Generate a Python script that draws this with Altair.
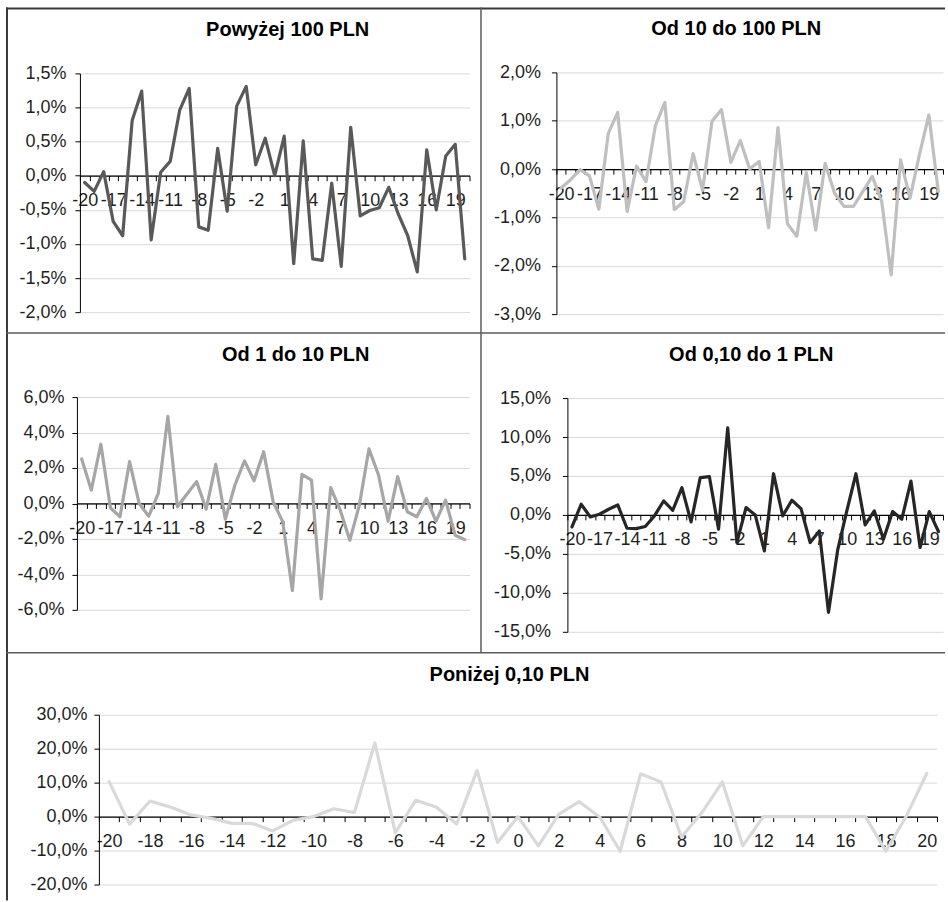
import altair as alt
import pandas as pd

# Session offsets (days relative to the event)
lags = list(range(-20, 21))

# Average abnormal returns (%) by price bracket
above_100 = [-0.10, -0.23, 0.06, -0.67, -0.88, 0.81, 1.24, -0.94, 0.05, 0.21, 0.96,
             1.28, -0.75, -0.80, 0.40, -0.52, 1.02, 1.31, 0.16, 0.55, 0.00, 0.58,
             -1.29, 0.51, -1.22, -1.24, -0.11, -1.33, 0.71, -0.59, -0.51, -0.47,
             -0.17, -0.56, -0.88, -1.41, 0.38, -0.50, 0.29, 0.46, -1.22]
from_10_to_100 = [-0.39, -0.22, -0.01, -0.14, -0.83, 0.74, 1.17, -0.88, 0.06, -0.26,
                  0.90, 1.38, -0.84, -0.67, 0.32, -0.44, 0.99, 1.23, 0.14, 0.59, 0.00,
                  0.16, -1.21, 0.86, -1.13, -1.39, -0.07, -1.26, 0.12, -0.50, -0.77,
                  -0.77, -0.46, -0.15, -0.67, -2.19, 0.19, -0.60, 0.30, 1.12, -0.46]
from_1_to_10 = [2.51, 0.75, 3.34, -0.25, -0.75, 2.36, 0.00, -0.72, 0.57, 4.91, -0.19,
                0.53, 1.23, -0.32, 2.21, -0.89, 1.04, 2.40, 1.28, 2.92, 0.09, -1.04,
                -4.91, 1.64, 1.32, -5.38, 0.89, -0.38, -2.08, -0.09, 3.08, 1.60,
                -1.00, 1.51, -0.47, -0.75, 0.28, -1.00, 0.19, -1.79, -2.04]
from_010_to_1 = [-1.54, 1.37, -0.26, 0.09, 0.73, 1.28, -1.71, -1.75, -1.49, -0.13,
                 1.79, 0.60, 3.50, -0.90, 4.78, 4.91, -1.83, 11.18, -3.54, 0.94, 0.00,
                 -4.61, 5.29, -0.13, 1.88, 0.81, -3.54, -2.05, -12.50, -4.52, 0.51,
                 5.29, -1.28, 0.51, -3.11, 0.43, -0.55, 4.35, -4.18, 0.43, -2.13]
below_010 = [10.3, -2.2, 4.6, 2.8, 0.5, -0.5, -2.0, -2.0, -4.2, -1.1, 0.0, 2.3, 1.2,
             21.7, -4.7, 4.8, 2.8, -2.2, 13.6, -7.6, 0.0, -8.6, 0.7, 4.4, -0.1, -10.2,
             12.6, 10.2, -6.0, 1.2, 10.2, -8.6, 0.0, 0.0, 0.0, 0.0, 0.0, 0.0, -10.2,
             0.2, 12.7]

FONT = "Liberation Sans"
TEXT = "#1f1f1f"
OUTER = "#3a3a3a"
INNER = "#5a5a5a"

# One canvas holds all five charts; each one gets its own scales placed in its own box.
W, H = 941, 894


def panel(title, values, color, ydom, ystep, box, title_xy, label_every, label_pad):
    x0, x1, ytop, ybot = box
    ymin, ymax = ydom
    df = pd.DataFrame({"lag": lags, "value": values})

    nsteps = int(round((ymax - ymin) / ystep))
    yticks = [round(ymin + k * ystep, 4) for k in range(nsteps + 1)]
    bounds = [k - 0.5 for k in range(-20, 22)]
    zero_px = ybot - (0 - ymin) / (ymax - ymin) * (ybot - ytop)
    half_cat = (x1 - x0) / 41 / 2

    x_label = (f"(datum.value + 20.5) % {label_every} == 0 && datum.value < 20.6 "
               f"? '' + (datum.value + 0.5) : ''")
    y_label = ("(datum.value < 0 ? '-' : '') + "
               "replace(format(abs(datum.value), '.1f'), '.', ',') + '%'")

    x_enc = alt.X(
        "lag:Q",
        scale=alt.Scale(domain=[-20.5, 20.5], range=[x0, x1], nice=False, zero=False),
        axis=alt.Axis(
            orient="bottom", values=bounds, labelExpr=x_label, labelOffset=half_cat,
            offset=zero_px - H, grid=False, title=None,
            tickSize=5, tickColor="#000000", domainColor="#000000", domainWidth=1.3,
            labelPadding=11, labelOverlap=False, labelFlush=False, labelBound=False,
            labelFont=FONT, labelFontSize=18, labelColor=TEXT,
        ),
    )
    y_enc = alt.Y(
        "value:Q",
        scale=alt.Scale(domain=[ymin, ymax], range=[ybot, ytop], nice=False, zero=False),
        axis=alt.Axis(
            orient="left", values=yticks, labelExpr=y_label, offset=-x0, title=None,
            grid=True, gridColor="#d9d9d9", gridWidth=1,
            tickSize=5, tickColor="#000000", domainColor="#000000", domainWidth=1,
            labelPadding=label_pad, labelFont=FONT, labelFontSize=18, labelColor=TEXT,
            labelOverlap=False, labelFlush=False, labelBound=False,
        ),
    )

    line = alt.Chart(df).mark_line(
        color=color, strokeWidth=3.2, strokeJoin="round", strokeCap="round"
    ).encode(x=x_enc, y=y_enc)

    head = alt.Chart(pd.DataFrame({"t": [title]})).mark_text(
        font=FONT, fontSize=20, fontWeight="bold", color="#000000",
        align="center", baseline="alphabetic",
    ).encode(text="t:N", x=alt.value(title_xy[0]), y=alt.value(title_xy[1]))

    return [line, head]


one = pd.DataFrame({"k": [0]})


def band(x1, x2, y1, y2, color):
    # thin filled strip used for the frame and the dividers between the charts
    return alt.Chart(one).mark_rect(color=color, strokeWidth=0).encode(
        x=alt.value(x1), x2=alt.value(x2), y=alt.value(y1), y2=alt.value(y2))


frame = [
    band(0, W - 1, 0, 2, OUTER),           # top edge
    band(0, 2, 0, H, OUTER),               # left edge
    band(474.75, 476.25, 0, 646, INNER),   # split between the two columns
    band(0, W - 1, 325.25, 326.75, INNER), # split after the first row
    band(0, W - 1, 645.25, 646.75, INNER), # split after the second row
]

layers = (
    panel("Powyżej 100 PLN", above_100, "#595959", (-2.0, 1.5), 0.5,
          (74, 464, 66, 305), (282, 29), 3, 9)
    + panel("Od 10 do 100 PLN", from_10_to_100, "#bfbfbf", (-3.0, 2.0), 1.0,
            (551, 938, 65, 307), (731, 28), 3, 11)
    + panel("Od 1 do 10 PLN", from_1_to_10, "#a6a6a6", (-6.0, 6.0), 2.0,
            (71, 464, 390, 603), (290, 354), 3, 8)
    + panel("Od 0,10 do 1 PLN", from_010_to_1, "#262626", (-15.0, 15.0), 5.0,
            (562, 938, 391, 625), (746, 354), 3, 12)
    + panel("Poniżej 0,10 PLN", below_010, "#d9d9d9", (-20.0, 30.0), 10.0,
            (93, 932, 708, 878), (504, 674), 2, 7)
)

chart = alt.layer(*frame, *layers).resolve_scale(
    x="independent", y="independent"
).properties(
    width=W, height=H,
    padding={"left": 6, "top": 7, "right": 0, "bottom": 0},
    background="#ffffff",
).configure_view(stroke=None)

chart.save("out.html", embed_options={"renderer": "svg", "actions": False})
